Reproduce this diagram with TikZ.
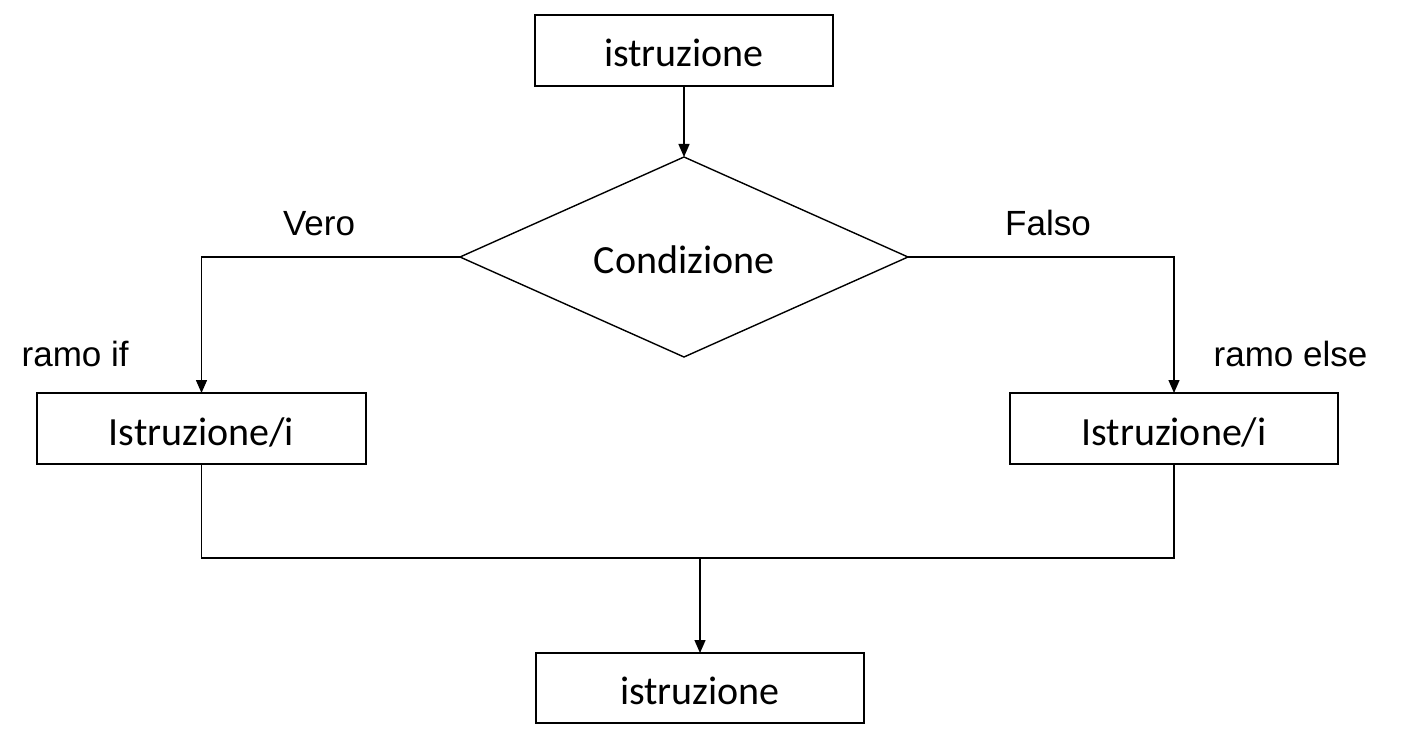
\documentclass[tikz,border=0pt]{standalone}
\usepackage{fontspec}
\newfontfamily\calib{Carlito}
\newfontfamily\arialf{Liberation Sans}
\usetikzlibrary{shapes.geometric,arrows.meta}
\begin{document}
\begin{tikzpicture}[x=1pt,y=-1pt,
  every path/.style={line width=1.4pt},
  boxnode/.style={draw,line width=1.4pt,rectangle,inner sep=0pt,outer sep=0pt,text height=33pt,text depth=0pt,font=\calib\fontsize{40}{48}\selectfont},
  decnode/.style={draw,line width=1.4pt,diamond,aspect=2.24,inner sep=0pt,outer sep=0pt,minimum width=448pt,minimum height=200pt,text height=32pt,text depth=0pt,font=\calib\fontsize{40}{48}\selectfont},
  lbl/.style={font=\arialf\fontsize{35}{42}\selectfont,inner sep=0pt,anchor=base},
  arr/.style={-{Triangle[length=13pt,width=11pt]},line width=1.4pt}]
\useasboundingbox (0,0) rectangle (1411,746);
\node[boxnode,minimum width=298pt,minimum height=71pt] (top) at (684,50.5) {istruzione};
\node[decnode] (cond) at (684,257) {Condizione};
\node[boxnode,minimum width=329pt,minimum height=71pt] (ifbox) at (201.5,428.5) {Istruzione/i};
\node[boxnode,minimum width=328pt,minimum height=71pt] (elsebox) at (1174,428.5) {Istruzione/i};
\node[boxnode,minimum width=328pt,minimum height=70pt] (bot) at (700,688) {istruzione};
\coordinate (j) at (700,558);
\node[lbl] (vero) at (319,236) {Vero};
\node[lbl] (falso) at (1048,236) {Falso};
\node[lbl,anchor=base west] (rif) at (21,366) {ramo if};
\node[lbl,anchor=base west] (relse) at (1213,366) {ramo else};
\draw[arr] (top.south) -- (cond.north);
\draw[arr] (cond.west) -| (ifbox.north);
\draw[arr] (cond.east) -| (elsebox.north);
\draw (ifbox.south) |- (j) -| (elsebox.south);
\draw[arr] (j) -- (bot.north);
\end{tikzpicture}
\end{document}
